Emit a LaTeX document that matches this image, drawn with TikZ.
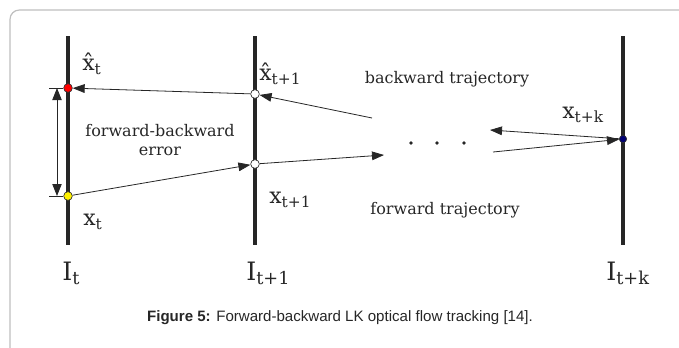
\documentclass[tikz,border=0pt]{standalone}
\usepackage{fontspec}
\setmainfont{DejaVu Serif}
\newfontfamily\capfont{Liberation Sans}
\usetikzlibrary{arrows.meta,positioning,calc}
\tikzset{
  frame/.style={draw=gray!50, line width=0.9pt, rounded corners=7pt},
  img/.style={line width=3.2pt, black!85},
  pnt/.style={circle, draw=black!80, line width=0.5pt, inner sep=0pt, minimum size=6.5pt},
  arr/.style={-{Triangle[length=9pt, width=6.5pt]}, line width=0.6pt, black!85},
  darr/.style={{Triangle[length=9pt, width=7pt]}-{Triangle[length=9pt, width=7pt]}, line width=0.6pt, black!85},
  tick/.style={line width=0.6pt, black!85},
  imglbl/.style={font=\fontsize{19}{21}\selectfont, text=black!85, inner sep=0pt, anchor=base west},
  ptlbl/.style={font=\fontsize{16.5}{18}\selectfont, text=black!85, inner sep=0pt, anchor=base west},
  note/.style={font=\fontsize{12}{14}\selectfont, align=center, text=black!85, inner sep=1pt}}
\newcommand{\sub}[1]{\raisebox{-0.35ex}{\fontsize{0.7em}{1em}\selectfont #1}}

\begin{document}
\begin{tikzpicture}[x=0.75pt, y=-0.75pt]
  \useasboundingbox (0,0) rectangle (679,347);
  \draw[frame] (10,360) -- (10,10) -- (690,10);
  % image planes
  \foreach \n/\x in {0/68, 1/255, k/623}
    \draw[img] (\x,36) coordinate (top\n) -- (\x,245) coordinate (bot\n);
  \node[imglbl] at (62,280) {I\sub{t}};
  \node[imglbl] at (246,280) {I\sub{t+1}};
  \node[imglbl] at (606,280) {I\sub{t+k}};
  % points
  \node[pnt, fill=red] (xh0) at (68,88) {};
  \node[pnt, fill=yellow] (x0) at (68,196) {};
  \node[pnt, fill=white] (xh1) at (255,94) {};
  \node[pnt, fill=white] (x1) at (255,164) {};
  \node[pnt, fill=blue!45!black, minimum size=5.5pt] (xk) at (623,139) {};
  \node[ptlbl] at (82,70) {\^{x}\sub{t}};
  \node[ptlbl] at (259,80) {\^{x}\sub{t+1}};
  \node[ptlbl] at (83,225) {x\sub{t}};
  \node[ptlbl] at (269,203) {x\sub{t+1}};
  \node[ptlbl] at (562,118) {x\sub{t+k}};
  % dots between frames
  \foreach \x in {411,437,464}
    \fill[black!85] (\x,143) circle (1.8);
  \coordinate (bwdstart) at (372,118);
  \coordinate (bwdend) at (490,130);
  \coordinate (fwdend) at (384,155);
  \coordinate (fwdstart) at (493,152);
  % trajectories
  \draw[arr] (xk) -- (bwdend);
  \draw[arr] (bwdstart) -- (xh1);
  \draw[arr] (xh1) -- (xh0);
  \draw[arr] (x0) -- (x1);
  \draw[arr] (x1) -- (fwdend);
  \draw[arr] (fwdstart) -- (xk);
  \node[note] at (447,79) {backward trajectory};
  \node[note] at (445,210) {forward trajectory};
  % error
  \draw[tick] (49,88) -- (xh0.west);
  \draw[tick] (49,196) -- (x0.west);
  \draw[darr] (57,88) -- (57,196);
  \node[note] at (160,140) {forward-backward\\error};
  \node[font=\capfont\fontsize{11.3}{13}\selectfont, text=black!85] at (340,318)
    {\textbf{Figure 5:} Forward-backward LK optical flow tracking [14].};
\end{tikzpicture}
\end{document}
